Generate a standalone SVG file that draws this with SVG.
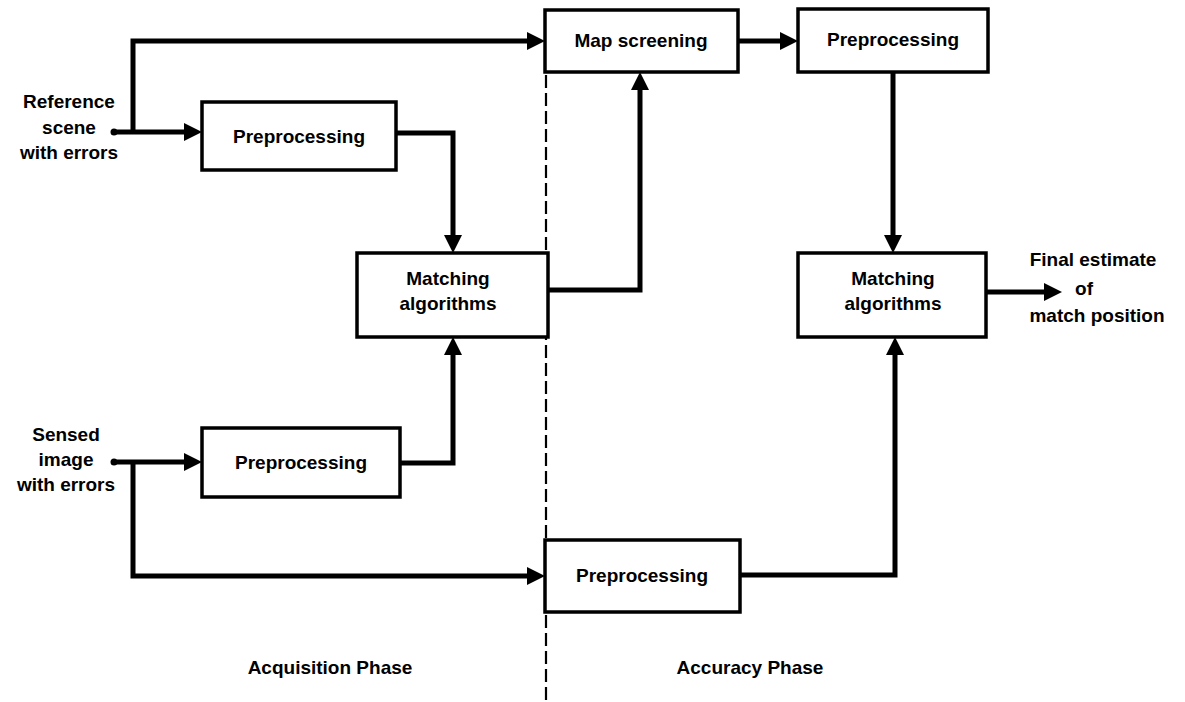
<svg xmlns="http://www.w3.org/2000/svg" width="1185" height="702" viewBox="0 0 1185 702">
<defs>
<style>
.box{fill:#fff;stroke:#000;stroke-width:3.5}
.t{font-family:"Liberation Sans",Arial,sans-serif;font-weight:bold;font-size:19px;fill:#000;text-anchor:middle}
.c{fill:none;stroke:#000;stroke-width:5;stroke-linejoin:miter;stroke-linecap:butt}
.dash{fill:none;stroke:#000;stroke-width:2.2;stroke-dasharray:13 5}
</style>
<marker id="ah" markerUnits="userSpaceOnUse" markerWidth="20" markerHeight="20" refX="3" refY="9" orient="auto">
<path d="M0,0 L18,9 L0,18 z" fill="#000"/>
</marker>
</defs>
<rect width="1185" height="702" fill="#fff"/>
<g id="divider">
<line class="dash" x1="546" y1="75" x2="546" y2="702"/>
</g>
<g id="connectors">
<circle cx="114" cy="132" r="3.5" fill="#000"/>
<circle cx="114" cy="462" r="3.5" fill="#000"/>
<path class="c" d="M114,132 H187" marker-end="url(#ah)"/>
<path class="c" d="M133,132 V41 H530" marker-end="url(#ah)"/>
<path class="c" d="M114,462 H187" marker-end="url(#ah)"/>
<path class="c" d="M133,462 V576 H530" marker-end="url(#ah)"/>
<path class="c" d="M396,133 H453 V238" marker-end="url(#ah)"/>
<path class="c" d="M400,463 H453 V352" marker-end="url(#ah)"/>
<path class="c" d="M548,290 H640 V87" marker-end="url(#ah)"/>
<path class="c" d="M738,41 H783" marker-end="url(#ah)"/>
<path class="c" d="M893,72 V238" marker-end="url(#ah)"/>
<path class="c" d="M740,575 H895 V352" marker-end="url(#ah)"/>
<path class="c" d="M986,292 H1047" marker-end="url(#ah)"/>
</g>
<g id="pre1"><rect class="box" x="202" y="102" width="194" height="68"/><text class="t" x="299" y="143">Preprocessing</text></g>
<g id="pre3"><rect class="box" x="202" y="428" width="198" height="69"/><text class="t" x="301" y="469">Preprocessing</text></g>
<g id="match1"><rect class="box" x="357" y="253" width="191" height="84"/><text class="t" x="448" y="285">Matching</text><text class="t" x="448" y="310">algorithms</text></g>
<g id="mapscreen"><rect class="box" x="545" y="10" width="193" height="62"/><text class="t" x="641" y="47">Map screening</text></g>
<g id="pre2"><rect class="box" x="798" y="9" width="190" height="63"/><text class="t" x="893" y="46">Preprocessing</text></g>
<g id="match2"><rect class="box" x="798" y="253" width="188" height="84"/><text class="t" x="893" y="285">Matching</text><text class="t" x="893" y="310">algorithms</text></g>
<g id="pre4"><rect class="box" x="545" y="540" width="195" height="72"/><text class="t" x="642" y="582">Preprocessing</text></g>
<g id="labels">
<text class="t" x="69" y="108">Reference</text>
<text class="t" x="69" y="134">scene</text>
<text class="t" x="69" y="159">with errors</text>
<text class="t" x="66" y="441">Sensed</text>
<text class="t" x="66" y="466">image</text>
<text class="t" x="66" y="491">with errors</text>
<text class="t" x="1093" y="266">Final estimate</text>
<text class="t" x="1084" y="295">of</text>
<text class="t" x="1097" y="322">match position</text>
<text class="t" x="330" y="674">Acquisition Phase</text>
<text class="t" x="750" y="674">Accuracy Phase</text>
</g>
</svg>
